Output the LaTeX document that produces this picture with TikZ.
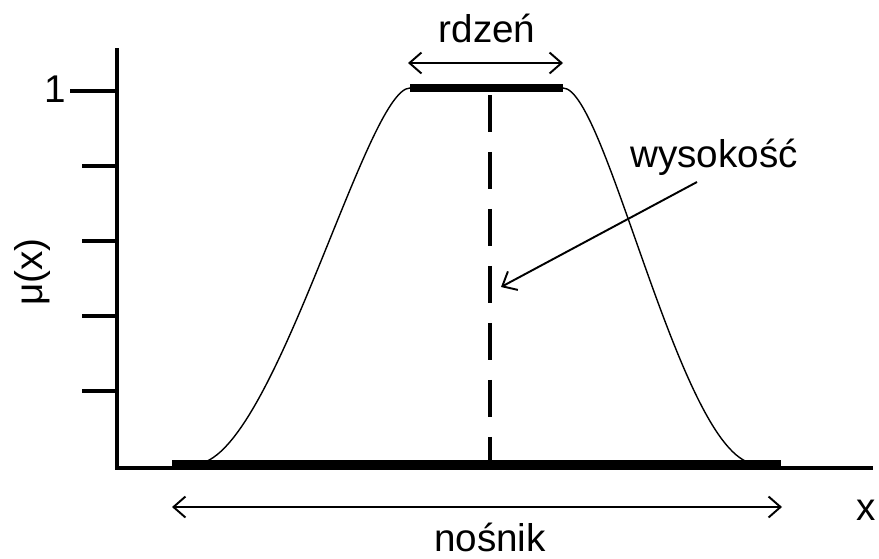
\documentclass[tikz,border=0pt]{standalone}
\usepackage{fontspec}
\setmainfont{Liberation Sans}
\usetikzlibrary{arrows.meta}
\begin{document}
\begin{tikzpicture}[x=0.02cm, y=-0.02cm,
        axis/.style={line width=2.1pt},
        bar/.style={line width=4.3pt},
        curve/.style={line width=0.8pt},
        arr/.style={{Straight Barb[length=0.24cm,width=0.42cm]}-{Straight Barb[length=0.24cm,width=0.42cm]}, line width=1.1pt},
        lbl/.style={font=\fontsize{22}{24}\selectfont, inner sep=1pt}
      ]
        \useasboundingbox (0,0) rectangle (879,558);
        % axes
        \coordinate (o) at (117,468);
        \coordinate (ytop) at (117,48);
        \coordinate (xend) at (873,468);
        \draw[axis] (ytop) -- (o) -- (xend);
        \draw[axis] (70,91) -- (117,91);
        \foreach \y in {166,241,316,391} {
          \draw[axis] (82,\y) -- (117,\y);
        }
        \node[lbl] (one) at (55,89) {1};
        \node[lbl, rotate=90] (mu) at (32,272) {μ(x)};
        \node[lbl] (xlab) at (866,510) {x};
        % membership function
        \coordinate (fl) at (195,464);
        \coordinate (cl) at (410,88);
        \coordinate (cr) at (563,88);
        \coordinate (fr) at (757,464);
        \draw[curve] (fl) .. controls (272,464) and (366,88) .. (cl)
          -- (cr) .. controls (607,88) and (682,464) .. (fr);
        \draw[bar] (172,464) -- (781,464);
        \draw[bar] (cl) -- (cr);
        \draw[line width=1.8pt, dash pattern=on 0.74cm off 0.4cm] (490,95) -- (490,464);
        % labels
        \node[lbl] (rdzen) at (487,28) {rdzeń};
        \draw[arr] (408,63) -- (563,63);
        \node[lbl] (nosnik) at (490,537) {nośnik};
        \draw[arr] (172,507) -- (782,507);
        \node[lbl] (wys) at (714,157) {wysokość};
        \coordinate (hgt) at (501,287);
        \draw[arr, {-Straight Barb[length=0.24cm,width=0.42cm]}] (697,182) -- (hgt);
      \end{tikzpicture}
\end{document}
